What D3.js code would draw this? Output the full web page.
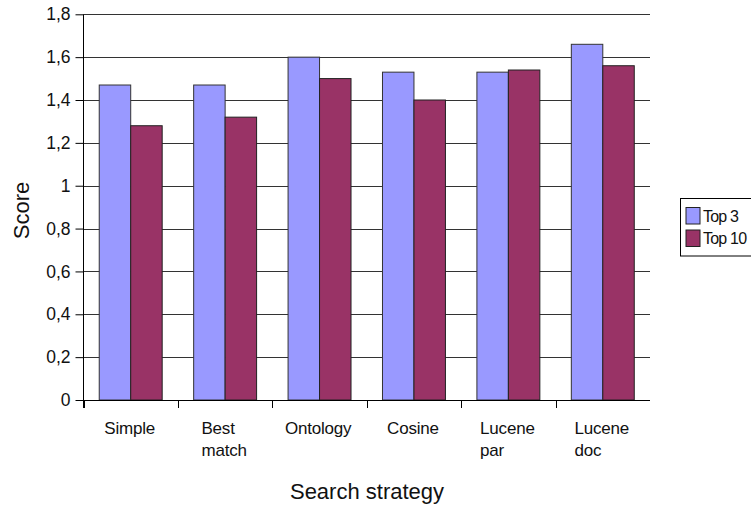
<!DOCTYPE html>
<html>
<head>
<meta charset="utf-8">
<script src="https://cdn.jsdelivr.net/npm/d3@7"></script>
<style>
  html, body { margin: 0; padding: 0; background: #fff; }
  svg { display: block; font-family: "Liberation Sans", Arial, sans-serif; }
</style>
</head>
<body>
<svg id="chart" width="751" height="508"></svg>
<script>
// Search strategies (category labels, line breaks as "\n")
const categories = ["Simple", "Best\nmatch", "Ontology", "Cosine", "Lucene\npar", "Lucene\ndoc"];
const seriesNames = ["Top 3", "Top 10"];
const top3 = [1.47, 1.47, 1.60, 1.53, 1.53, 1.66];
const top10 = [1.28, 1.32, 1.50, 1.40, 1.54, 1.56];
const yTicks = [0, 0.2, 0.4, 0.6, 0.8, 1, 1.2, 1.4, 1.6, 1.8];
const colors = ["#9999FF", "#993366"];

const seriesValues = [top3, top10];
const rows = categories.map((c, i) => ({ cat: c, values: seriesValues.map(s => s[i]) }));

const svg = d3.select("#chart");
const plot = { left: 83.5, right: 650, top: 14.3, bottom: 400 };

const x0 = d3.scaleBand().domain(categories).range([plot.left, plot.right]).padding(0);
const x1 = d3.scaleBand().domain(seriesNames).range([0, x0.bandwidth()])
  .paddingInner(0).paddingOuter(0.5);
const y = d3.scaleLinear().domain([0, 1.8]).range([plot.bottom, plot.top]);

const fmt = v => d3.format(".1f")(v).replace(".", ",").replace(/,0$/, "");

// horizontal gridlines
svg.append("g")
  .selectAll("line")
  .data(yTicks.filter(t => t > 0))
  .join("line")
  .attr("x1", plot.left).attr("x2", plot.right)
  .attr("y1", d => Math.round(y(d)) + 0.5).attr("y2", d => Math.round(y(d)) + 0.5)
  .attr("stroke", "#333").attr("stroke-width", 1);

// bars
const groups = svg.append("g")
  .selectAll("g")
  .data(rows)
  .join("g")
  .attr("transform", d => `translate(${x0(d.cat)},0)`);

groups.selectAll("rect")
  .data(d => d.values.map((v, k) => ({ name: seriesNames[k], v, k })))
  .join("rect")
  .attr("x", d => x1(d.name))
  .attr("width", x1.bandwidth())
  .attr("y", d => y(d.v))
  .attr("height", d => y(0) - y(d.v))
  .attr("fill", d => colors[d.k])
  .attr("stroke", d => d.k === 0 ? "#333" : "#222")
  .attr("stroke-width", 1);

// y axis
const yAxis = d3.axisLeft(y).tickValues(yTicks).tickSize(8).tickPadding(5).tickFormat(fmt);
const gy = svg.append("g")
  .attr("transform", `translate(${plot.left},0)`)
  .call(yAxis);
gy.select(".domain").attr("stroke", "#000").attr("d", `M0,${plot.top}V${plot.bottom + 8}`);
gy.selectAll(".tick line").attr("stroke", "#000");
gy.selectAll(".tick text")
  .attr("font-size", 17.5).attr("fill", "#111")
  .attr("font-family", "Liberation Sans, Arial, sans-serif");

// x axis: ticks at band boundaries
const gx = svg.append("g").attr("transform", `translate(0,${plot.bottom})`);
gx.append("line")
  .attr("x1", plot.left).attr("x2", plot.right)
  .attr("y1", 0.5).attr("y2", 0.5)
  .attr("stroke", "#000");
gx.selectAll("line.tick")
  .data(categories)
  .join("line")
  .attr("class", "tick")
  .attr("x1", d => Math.round(x0(d)) + 0.5).attr("x2", d => Math.round(x0(d)) + 0.5)
  .attr("y1", 0).attr("y2", 8)
  .attr("stroke", "#000");

// category labels: lines left-aligned, block centred on the band
const labels = gx.selectAll("text.cat")
  .data(categories)
  .join("text")
  .attr("class", "cat")
  .attr("font-size", 17)
  .attr("letter-spacing", -0.2)
  .attr("fill", "#111");
labels.each(function (d) {
  const t = d3.select(this);
  const lines = d.split("\n");
  lines.forEach((ln, i) => {
    t.append("tspan").attr("x", 0).attr("y", 33.5 + i * 22).text(ln);
  });
  const w = this.getBBox().width;
  t.attr("transform", `translate(${x0(d) + x0.bandwidth() / 2 - w / 2 - 1},0)`);
});

// axis titles
svg.append("text")
  .attr("x", 367).attr("y", 499)
  .attr("text-anchor", "middle")
  .attr("font-size", 22).attr("fill", "#111")
  .text("Search strategy");

svg.append("text")
  .attr("transform", "translate(29,210.5) rotate(-90)")
  .attr("text-anchor", "middle")
  .attr("font-size", 22).attr("fill", "#111")
  .text("Score");

// legend
const legend = svg.append("g");
legend.append("rect")
  .attr("x", 680.5).attr("y", 198.5)
  .attr("width", 80).attr("height", 57.5)
  .attr("fill", "#fff").attr("stroke", "#000");
const items = legend.selectAll("g.item")
  .data(seriesNames)
  .join("g")
  .attr("class", "item")
  .attr("transform", (d, i) => `translate(0,${i * 22.5})`);
items.append("rect")
  .attr("x", 686).attr("y", 207.5)
  .attr("width", 14).attr("height", 16.5)
  .attr("fill", (d, i) => colors[i])
  .attr("stroke", "#222");
items.append("text")
  .attr("x", 703).attr("y", 221.5)
  .attr("font-size", 16).attr("fill", "#111")
  .attr("letter-spacing", -0.8)
  .text(d => d);
</script>
</body>
</html>
